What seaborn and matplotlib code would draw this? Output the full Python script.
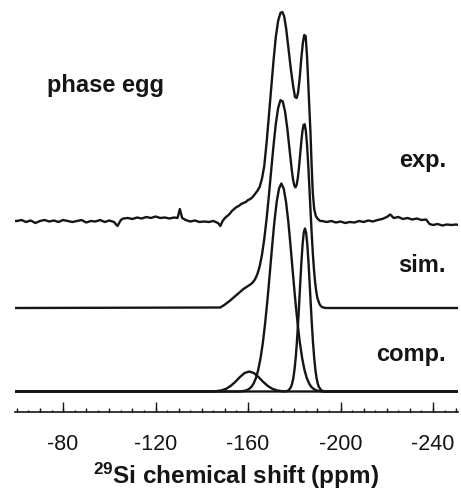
import numpy as np
import pandas as pd
import matplotlib
matplotlib.use("Agg")
import matplotlib.pyplot as plt
from matplotlib.ticker import MultipleLocator, FuncFormatter
import seaborn as sns

# ---------------------------------------------------------------
# 29Si MAS NMR of phase egg: experimental trace, simulation and
# the three fitted components (intensities in arbitrary units)
# ---------------------------------------------------------------

# experimental spectrum
exp_ppm = [-59, -60, -62, -64, -66, -68, -70, -72, -74, -76, -78, -80, -82, -84,
           -86, -88, -90, -92, -94, -96, -98, -100, -102, -103.5, -105, -106,
           -108, -110, -112, -114, -116, -118, -120, -122, -124, -126, -128,
           -129.5, -130.5, -131.5, -133, -135, -137, -139, -141, -143, -145,
           -147, -148,
           -149, -150, -151, -152, -153, -154, -155, -156, -157, -158, -159,
           -160, -161, -162, -163, -164, -165, -166, -167, -168, -169, -170,
           -171, -172, -173, -174, -174.8, -175.6, -176.5, -177.5, -178.5,
           -179.5, -180.3, -181.0, -181.6, -182.3, -183.0, -183.7, -184.3,
           -184.9, -185.5, -186.0, -186.5, -187.0, -187.5, -188.0, -188.6,
           -189.3, -190.2, -191.2,
           -192, -194, -196, -198, -200, -202, -204, -206, -208, -210, -212,
           -214, -216, -218, -220, -221.5, -223, -225, -227, -229, -231, -233,
           -235, -237, -238.5, -240, -242, -244, -246, -248, -250, -251]
exp_int = [0, 0, 1, -1, 0.5, -2, 0, 1, -0.5, 0.5, -1, 1, 0, -1,
           0, 1, -1.5, 0, -0.5, 1, -1, 0.5, -1, -5, 1, 2.5,
           3, 2, 3.5, 2.5, 4, 3, 4.5, 3, 3.5, 2.5, 3.5,
           3, 12, 3, 1, -0.5, 0.5, -1, -0.5, -1, 0,
           -2, -5,
           0, 3, 5, 7, 10, 12, 14, 15, 17, 18, 19,
           21, 22, 24, 27, 30, 34, 42, 55, 78, 105, 132,
           160, 184, 200, 208, 209, 205, 192, 172, 152,
           135, 124, 123, 128, 142, 162, 178, 186,
           185, 165, 140, 113, 88, 55, 28, 12,
           5, 2, 0,
           0, -1, 0, -1.5, -0.5, -2, -1, -1.5, 0, -1, 0.5,
           -0.5, 1, 2, 4, 6.5, 3, 4, 2, 3, 1.5, 2.5,
           1, 1.5, -3, -4, -3, -4.5, -3.5, -4, -3.5, -4]

# simulated spectrum (sum of the components)
sim_ppm = [-59, -148, -150, -152, -154, -156, -158, -160, -161, -162,
           -163, -164, -165, -166, -167, -168, -169, -170, -171, -172, -173,
           -174, -175, -176, -177, -178, -179, -179.5, -180, -180.5, -181,
           -181.5, -182, -182.5, -183, -183.5, -184, -184.5, -185, -185.5,
           -186, -186.5, -187, -187.5, -188, -188.5, -189, -189.5, -190,
           -191, -192, -193, -194, -251]
sim_int = [0, 0.5, 3.5, 7, 11, 15, 19, 22, 23.5, 25.5,
           28.6, 33.7, 41.4, 53, 68.8, 88.8, 112.2, 137.5, 162.3, 184, 199.9,
           207.8, 206.6, 196.4, 179, 157.3, 136.2, 127.9, 122.5, 120.6, 122.9,
           129.6, 139.9, 152.5, 165.6, 176.5, 183.1, 183.7, 176.8, 163.3,
           144.2, 121.7, 98, 75.3, 55.2, 38.6, 25.8, 16.4, 9.9,
           3.3, 0.9, 0.2, 0, 0]

# component 1: broad minor site near -160 ppm
c1_ppm = [-59, -144.5, -146.5, -148.5, -150.5, -152.5, -154.5, -156.5, -158.5,
          -160.5, -162.5, -164.5, -166.5, -168.5, -170.5, -172.5, -174.5,
          -176.5, -251]
c1_int = [0, 0, 0.4, 1.1, 2.7, 5.6, 9.7, 14.5, 18.5,
          20, 18.5, 14.5, 9.7, 5.6, 2.7, 1.1, 0.4,
          0, 0]

# component 2: main site near -174 ppm
c2_ppm = [-59, -156.4, -157.4, -158.4, -159.4, -160.4, -161.4, -162.4, -163.4,
          -164.4, -165.4, -166.4, -167.4, -168.4, -169.4, -170.4, -171.4,
          -172.4, -173.4, -174.4, -175.4, -176.4, -177.4, -178.4, -179.4,
          -180.4, -181.4, -182.4, -183.4, -184.4, -185.4, -186.4, -187.4,
          -188.4, -189.4, -190.4, -191.4, -192.4, -251]
c2_int = [0, 0, 0.3, 0.6, 1.3, 2.5, 4.5, 8.0, 13.4,
          21.6, 33.3, 48.8, 68.6, 92, 118, 145, 170,
          190, 203, 208, 203, 190, 170, 145, 118,
          92, 68.6, 48.8, 33.3, 21.6, 13.4, 8.0, 4.5,
          2.5, 1.3, 0.6, 0.3, 0, 0]

# component 3: narrow site near -185 ppm
c3_ppm = [-59, -175.6, -176.6, -177.6, -178.6, -179.1, -179.6, -180.1, -180.6,
          -181.1, -181.6, -182.1, -182.6, -183.1, -183.6, -184.1, -184.6,
          -185.1, -185.6, -186.1, -186.6, -187.1, -187.6, -188.1, -188.6,
          -189.1, -189.6, -190.1, -190.6, -191.6, -192.6, -193.6, -251]
c3_int = [0, 0, 0.3, 1.3, 4.7, 8.2, 13.8, 22.1, 33.6,
          48.6, 67, 87.9, 109.8, 130.5, 147.7, 159, 163,
          159, 147.7, 130.5, 109.8, 87.9, 67, 48.6, 33.6,
          22.1, 13.8, 8.2, 4.7, 1.3, 0.3, 0, 0]

# vertical stacking of the three traces
offset_exp = 191
offset_sim = 104
offset_comp = 20.5

trace_labels = ["exp.", "sim.", "comp."]
title_text = "phase egg"
x_label = "$^{29}$Si chemical shift (ppm)"

# ---------------------------------------------------------------
sns.set_theme(style="white")
plt.rcParams["font.family"] = ["Liberation Sans", "DejaVu Sans"]
plt.rcParams["mathtext.fontset"] = "custom"
plt.rcParams["mathtext.rm"] = "Liberation Sans:bold"
plt.rcParams["mathtext.default"] = "rm"

ink = "#151515"
fig = plt.figure(figsize=(4.61, 4.93), dpi=100)
ax = fig.add_axes([15 / 461, 81 / 493, 443 / 461, 412 / 493])

frames = [
    ("exp", exp_ppm, exp_int, offset_exp),
    ("sim", sim_ppm, sim_int, offset_sim),
    ("c1", c1_ppm, c1_int, offset_comp),
    ("c2", c2_ppm, c2_int, offset_comp),
    ("c3", c3_ppm, c3_int, offset_comp),
]
for name, ppm, inten, off in frames:
    df = pd.DataFrame({"ppm": ppm, "y": np.asarray(inten, float) + off})
    sns.lineplot(data=df, x="ppm", y="y", ax=ax, color=ink, lw=1.7,
                 estimator=None, sort=True)

ax.set_xlim(-59.2, -250.8)
ax.set_ylim(0, 412)

for side in ("left", "right", "top"):
    ax.spines[side].set_visible(False)
ax.spines["bottom"].set_color(ink)
ax.spines["bottom"].set_linewidth(1.2)

ax.set_yticks([])
ax.set_ylabel("")
ax.xaxis.set_major_locator(MultipleLocator(40))
ax.xaxis.set_minor_locator(MultipleLocator(5))
ax.xaxis.set_major_formatter(FuncFormatter(lambda v, p: f"{v:.0f}"))
ax.tick_params(axis="x", which="major", direction="in", length=7, width=1.0,
               color=ink, labelsize=15.5, pad=16, labelcolor=ink, bottom=True)
ax.tick_params(axis="x", which="minor", direction="in", length=1.6, width=1.0,
               color=ink, bottom=True)

# intermediate 10 ppm ticks
sec = ax.secondary_xaxis(0)
sec.xaxis.set_major_locator(MultipleLocator(10))
sec.tick_params(axis="x", direction="in", length=3.2, width=1.0, color=ink,
                labelbottom=False)
sec.spines["bottom"].set_visible(False)

ax.set_xlabel(x_label, fontsize=17.5, fontweight="bold", color=ink, labelpad=4)

# trace labels
label_heights = [252, 147, 57]
for txt, yv in zip(trace_labels, label_heights):
    ax.text(-245.6, yv, txt, ha="right", va="center", fontsize=17,
            fontweight="bold", color=ink)
ax.text(-73.1, 327, title_text, ha="left", va="center", fontsize=17,
        fontweight="bold", color=ink)

fig.savefig("out.png", dpi=100)
